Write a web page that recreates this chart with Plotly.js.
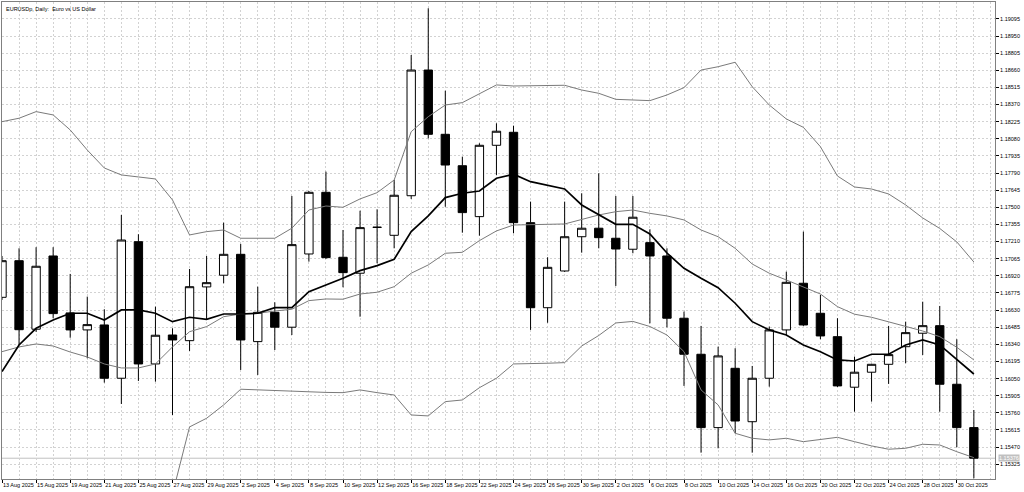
<!DOCTYPE html>
<html>
<head>
<meta charset="utf-8">
<script src="https://cdn.plot.ly/plotly-3.0.1.min.js"></script>
<style>
html, body { margin: 0; padding: 0; background: #ffffff; }
#chart { width: 1024px; height: 492px; }
</style>
</head>
<body>
<div id="chart"></div>
<script>
// EURUSDp daily bars, 13 Aug 2025 - 31 Oct 2025
let dates = [
    '13 Aug 2025', '14 Aug 2025', '15 Aug 2025', '18 Aug 2025', '19 Aug 2025', '20 Aug 2025', '21 Aug 2025', '22 Aug 2025', '25 Aug 2025', '26 Aug 2025',
    '27 Aug 2025', '28 Aug 2025', '29 Aug 2025', '1 Sep 2025', '2 Sep 2025', '3 Sep 2025', '4 Sep 2025', '5 Sep 2025', '8 Sep 2025', '9 Sep 2025',
    '10 Sep 2025', '11 Sep 2025', '12 Sep 2025', '15 Sep 2025', '16 Sep 2025', '17 Sep 2025', '18 Sep 2025', '19 Sep 2025', '22 Sep 2025', '23 Sep 2025',
    '24 Sep 2025', '25 Sep 2025', '26 Sep 2025', '29 Sep 2025', '30 Sep 2025', '1 Oct 2025', '2 Oct 2025', '3 Oct 2025', '6 Oct 2025', '7 Oct 2025',
    '8 Oct 2025', '9 Oct 2025', '10 Oct 2025', '13 Oct 2025', '14 Oct 2025', '15 Oct 2025', '16 Oct 2025', '17 Oct 2025', '20 Oct 2025', '21 Oct 2025',
    '22 Oct 2025', '23 Oct 2025', '24 Oct 2025', '27 Oct 2025', '28 Oct 2025', '29 Oct 2025', '30 Oct 2025', '31 Oct 2025'];

let open = [
    1.16738, 1.17048, 1.16468, 1.17088, 1.16606, 1.16462, 1.16504, 1.16053, 1.17209, 1.16174,
    1.16419, 1.16371, 1.16826, 1.16925, 1.17102, 1.16363, 1.16611, 1.16485, 1.17105, 1.17627,
    1.17077, 1.16942, 1.17332, 1.17263, 1.17598, 1.18662, 1.18118, 1.17852, 1.17421, 1.18025,
    1.18135, 1.17370, 1.16650, 1.16961, 1.17251, 1.17323, 1.17238, 1.17145, 1.17201, 1.17088,
    1.16561, 1.16256, 1.15635, 1.16137, 1.15685, 1.16053, 1.16462, 1.16857, 1.16603, 1.16405,
    1.15977, 1.16104, 1.16171, 1.16320, 1.16434, 1.16498, 1.16002, 1.15635];
let high = [
    1.17088, 1.17153, 1.17162, 1.17162, 1.16936, 1.16744, 1.16637, 1.17435, 1.17272, 1.16659,
    1.16476, 1.16978, 1.17088, 1.17370, 1.17190, 1.16828, 1.16696, 1.17596, 1.17638, 1.17802,
    1.17308, 1.17471, 1.17483, 1.17731, 1.18789, 1.19185, 1.18487, 1.17929, 1.18042, 1.18211,
    1.18191, 1.17548, 1.17077, 1.17548, 1.17619, 1.17788, 1.17596, 1.17596, 1.17314, 1.17153,
    1.16617, 1.16496, 1.16320, 1.16307, 1.16157, 1.16490, 1.16955, 1.17294, 1.16758, 1.16561,
    1.16236, 1.16174, 1.16496, 1.16532, 1.16701, 1.16665, 1.16383, 1.15784];
let low = [
    1.16716, 1.16335, 1.16445, 1.16561, 1.16396, 1.16222, 1.16016, 1.15835, 1.16030, 1.16024,
    1.15742, 1.16284, 1.16546, 1.16857, 1.16123, 1.16081, 1.16292, 1.16419, 1.17040, 1.17063,
    1.16823, 1.16574, 1.17026, 1.17153, 1.17571, 1.18084, 1.17505, 1.17285, 1.17260, 1.17774,
    1.17280, 1.16462, 1.16523, 1.16953, 1.17116, 1.17153, 1.16834, 1.17111, 1.16518, 1.16484,
    1.15988, 1.15423, 1.15460, 1.15587, 1.15423, 1.15982, 1.16419, 1.16496, 1.16383, 1.15979,
    1.15770, 1.15855, 1.16005, 1.16180, 1.16250, 1.15770, 1.15469, 1.15206];
let close = [
    1.17048, 1.16464, 1.17001, 1.16600, 1.16462, 1.16507, 1.16053, 1.17223, 1.16174, 1.16417,
    1.16377, 1.16828, 1.16862, 1.17102, 1.16377, 1.16611, 1.16485, 1.17184, 1.17627, 1.17074,
    1.16947, 1.17328, 1.17330, 1.17602, 1.18662, 1.18118, 1.17858, 1.17455, 1.18025, 1.18144,
    1.17370, 1.16650, 1.16992, 1.17251, 1.17323, 1.17243, 1.17147, 1.17416, 1.17088, 1.16561,
    1.16256, 1.15635, 1.16242, 1.15691, 1.16053, 1.16462, 1.16865, 1.16504, 1.16411, 1.15988,
    1.16104, 1.16171, 1.16253, 1.16439, 1.16498, 1.16002, 1.15635, 1.15376];

// thick moving average
let ma = [
    1.16109, 1.16335, 1.16476, 1.16546, 1.16603, 1.16603, 1.16546, 1.16631, 1.16631, 1.16603,
    1.16532, 1.16569, 1.16552, 1.16597, 1.16597, 1.16603, 1.16650, 1.16650, 1.16786, 1.16843,
    1.16899, 1.16964, 1.17006, 1.17060, 1.17294, 1.17427, 1.17582, 1.17619, 1.17638, 1.17746,
    1.17780, 1.17717, 1.17689, 1.17655, 1.17520, 1.17435, 1.17356, 1.17356, 1.17274, 1.17113,
    1.16984, 1.16899, 1.16820, 1.16688, 1.16532, 1.16462, 1.16419, 1.16335, 1.16278, 1.16208,
    1.16199, 1.16256, 1.16256, 1.16335, 1.16377, 1.16335, 1.16214, 1.16089];
// bollinger bands
let bbMid = [
    1.16278, 1.16318, 1.16343, 1.16326, 1.16275, 1.16233, 1.16174, 1.16140, 1.16140, 1.16174,
    1.16318, 1.16447, 1.16490, 1.16574, 1.16597, 1.16603, 1.16622, 1.16637, 1.16710, 1.16724,
    1.16722, 1.16766, 1.16781, 1.16828, 1.16942, 1.17012, 1.17111, 1.17119, 1.17218, 1.17300,
    1.17350, 1.17350, 1.17356, 1.17359, 1.17399, 1.17435, 1.17463, 1.17477, 1.17449, 1.17427,
    1.17393, 1.17308, 1.17251, 1.17153, 1.17020, 1.16942, 1.16885, 1.16828, 1.16766, 1.16659,
    1.16595, 1.16569, 1.16532, 1.16490, 1.16453, 1.16405, 1.16315, 1.16208];
let bbUp = [
    1.18225, 1.18254, 1.18310, 1.18282, 1.18155, 1.17985, 1.17833, 1.17774, 1.17757, 1.17740,
    1.17562, 1.17266, 1.17294, 1.17308, 1.17238, 1.17238, 1.17238, 1.17323, 1.17477, 1.17511,
    1.17500, 1.17571, 1.17624, 1.17731, 1.18140, 1.18267, 1.18366, 1.18386, 1.18459, 1.18536,
    1.18527, 1.18527, 1.18533, 1.18533, 1.18493, 1.18465, 1.18414, 1.18409, 1.18403, 1.18451,
    1.18513, 1.18662, 1.18690, 1.18728, 1.18521, 1.18366, 1.18248, 1.18177, 1.18013, 1.17765,
    1.17672, 1.17655, 1.17613, 1.17520, 1.17410, 1.17321, 1.17207, 1.17037];
let bbLow = [
    1.14331, 1.14382, 1.14377, 1.14371, 1.14396, 1.14481, 1.14515, 1.14506, 1.14523, 1.14608,
    1.15073, 1.15641, 1.15714, 1.15827, 1.15960, 1.15954, 1.15948, 1.15943, 1.15937, 1.15933,
    1.15931, 1.15954, 1.15931, 1.15911, 1.15742, 1.15734, 1.15855, 1.15869, 1.15973, 1.16053,
    1.16174, 1.16174, 1.16180, 1.16185, 1.16326, 1.16415, 1.16521, 1.16534, 1.16491, 1.16419,
    1.16278, 1.15954, 1.15827, 1.15587, 1.15545, 1.15531, 1.15545, 1.15516, 1.15536, 1.15553,
    1.15516, 1.15480, 1.15452, 1.15460, 1.15494, 1.15488, 1.15431, 1.15381];

let idx = dates.map((d, i) => i);
let tickIdx = idx.filter(i => i % 2 === 0);
let lastPrice = close[close.length - 1];
let fontFam = 'Liberation Sans, Arial, sans-serif';
let gridCol = '#d2d2d2';
let gridDash = '2px,2px';

let data = [{ // candles
    type: 'candlestick',
    x: idx,
    open: open,
    high: high,
    low: low,
    close: close,
    whiskerwidth: 0,
    increasing: { line: { color: '#000000', width: 1 }, fillcolor: '#ffffff' },
    decreasing: { line: { color: '#000000', width: 1 }, fillcolor: '#000000' },
    hoverinfo: 'skip',
}, { // upper band
    type: 'scatter', mode: 'lines', x: idx, y: bbUp,
    line: { color: '#7a7a7a', width: 1 },
}, { // middle band
    type: 'scatter', mode: 'lines', x: idx, y: bbMid,
    line: { color: '#7a7a7a', width: 1 },
}, { // lower band
    type: 'scatter', mode: 'lines', x: idx, y: bbLow,
    line: { color: '#7a7a7a', width: 1 },
}, { // moving average
    type: 'scatter', mode: 'lines', x: idx, y: ma,
    line: { color: '#000000', width: 1.7 },
},];

let layout = {
    width: 1024,
    height: 492,
    margin: { l: 2, r: 29, t: 2, b: 13, pad: 0 },
    paper_bgcolor: '#ffffff',
    plot_bgcolor: '#ffffff',
    showlegend: false,
    xaxis: {
        type: 'linear',
        range: [0, 58.24],
        rangeslider: { visible: false },
        tickmode: 'array',
        tickvals: tickIdx,
        ticktext: tickIdx.map(i => dates[i]),
        ticks: 'outside',
        ticklen: 3,
        tickcolor: '#000000',
        tickangle: 0,
        ticklabelposition: 'outside right',
        tickfont: { family: fontFam, size: 5.5, color: '#000000' },
        showgrid: true,
        gridcolor: gridCol,
        griddash: gridDash,
        minor: { tick0: 0, dtick: 1, showgrid: true, gridcolor: gridCol, griddash: gridDash, ticks: '' },
        showline: true,
        linecolor: '#808080',
        mirror: true,
        zeroline: false,
    },
    yaxis: {
        side: 'right',
        range: [1.15200, 1.19238],
        tickmode: 'linear',
        tick0: 1.19095,
        dtick: 0.00145,
        tickformat: '.5f',
        ticks: 'outside',
        ticklen: 3,
        tickcolor: '#000000',
        tickfont: { family: fontFam, size: 5.5, color: '#000000' },
        showgrid: true,
        gridcolor: gridCol,
        griddash: gridDash,
        showline: true,
        linecolor: '#808080',
        mirror: true,
        zeroline: false,
    },
    shapes: [{ // bid line
        type: 'line', xref: 'paper', x0: 0, x1: 1, yref: 'y', y0: lastPrice, y1: lastPrice,
        line: { color: '#c0c0c0', width: 1 }, layer: 'below',
    }],
    annotations: [{ // chart caption
        xref: 'paper', yref: 'paper', x: 0, y: 1, xanchor: 'left', yanchor: 'top',
        xshift: 2, yshift: -2, showarrow: false,
        text: 'EURUSDp, Daily:\u00a0 Euro vs US Dollar',
        font: { family: fontFam, size: 5.5, color: '#000000' },
    }, { // bid price label
        xref: 'paper', yref: 'y', x: 1, y: lastPrice, xanchor: 'left', yanchor: 'middle',
        xshift: 3, showarrow: false, borderpad: 0,
        text: lastPrice.toFixed(5),
        bgcolor: '#c0c0c0',
        font: { family: fontFam, size: 5.5, color: '#ffffff' },
    }],
};

let config = { staticPlot: true, displayModeBar: false };

Plotly.newPlot('chart', data, layout, config);
</script>
</body>
</html>
